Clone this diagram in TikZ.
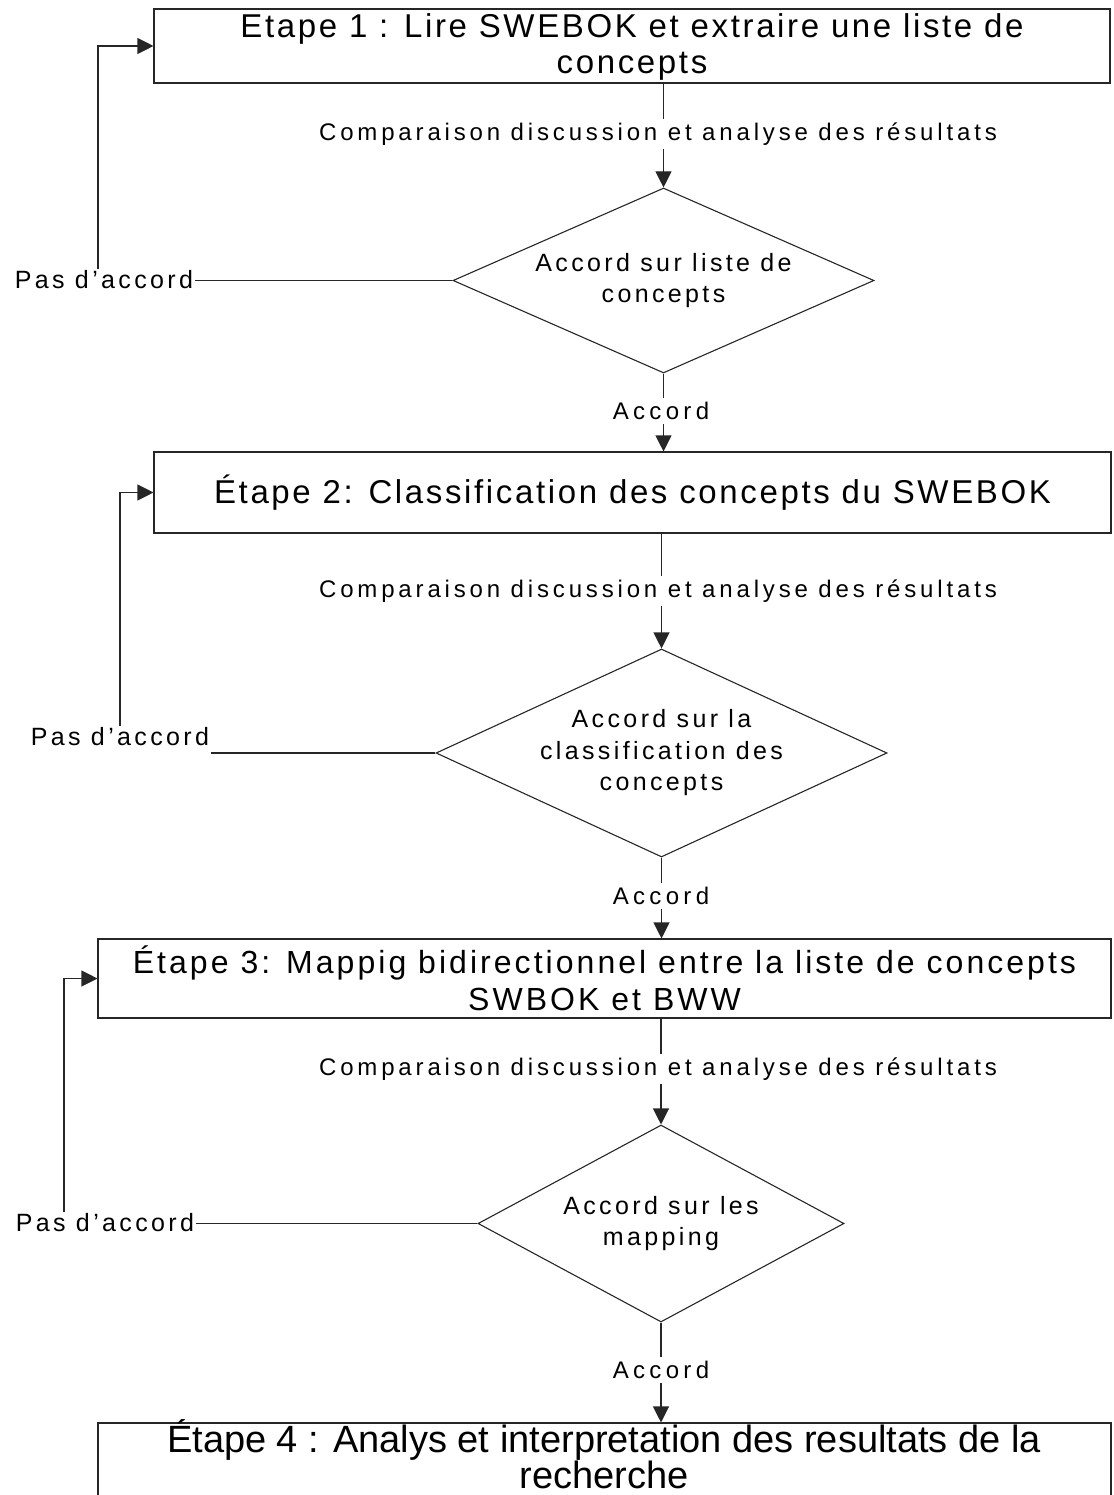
\documentclass[tikz,border=0pt]{standalone}
\usepackage{fontspec}
\setmainfont{Liberation Sans}
\usetikzlibrary{shapes.geometric,arrows.meta}

% font helper: size, baseline skip, letter spacing
\newcommand{\lsfont}[3]{\fontsize{#1}{#2}\selectfont\addfontfeature{LetterSpace=#3}}

\begin{document}
\begin{tikzpicture}[x=1pt,y=-1pt,
  line/.style={draw=black!85, line width=1.1pt},
  arrow/.style={line, -{Triangle[length=16pt,width=16pt]}},
  stepbox/.style={draw=black!85, line width=1.1pt, rectangle, inner sep=0pt, align=center},
  decision/.style={draw=black!85, line width=1.1pt, diamond, inner sep=0pt},
  dtext/.style={align=center, inner sep=0pt, font=\lsfont{25}{31.5}{13.5}},
  cmp/.style={fill=white, inner sep=4pt, font=\lsfont{24}{28}{16}},
  okay/.style={fill=white, inner sep=4pt, font=\lsfont{24}{28}{18}},
  nok/.style={inner sep=2pt, font=\lsfont{25}{30}{13.5}}
]
\clip (0,0) rectangle (1113,1495);
\useasboundingbox (0,0) rectangle (1113,1495);

% ---- step 1 ----
\node[stepbox, minimum width=956pt, minimum height=74pt] (b1) at (632,46) {};
\node[align=center, inner sep=0pt, font=\lsfont{33}{36}{8}] at (632,47)
  {Etape 1 : Lire SWEBOK et extraire une liste de\\concepts};
\node[decision, minimum width=421pt, minimum height=185pt] (d1) at (663.5,280.5) {};
\node[dtext] at (d1) {Accord sur liste de\\concepts};
\node[nok] (p1) at (104,280) {Pas d’accord};

% ---- step 2 ----
\node[stepbox, minimum width=957pt, minimum height=81pt, font=\lsfont{33}{38}{8}]
  (b2) at (632.5,492.5) {Étape 2: Classification des concepts du SWEBOK};
\node[decision, minimum width=451pt, minimum height=208pt] (d2) at (661.5,753) {};
\node[dtext] at (d2) {Accord sur la\\classification des\\concepts};
\node[nok] (p2) at (120,737) {Pas d’accord};

% ---- step 3 ----
\node[stepbox, minimum width=1013pt, minimum height=79pt, font=\lsfont{32}{37}{9.5}]
  (b3) at (604.5,978.5) {Étape 3: Mappig bidirectionnel entre la liste de concepts\\SWBOK et BWW};
\node[decision, minimum width=366pt, minimum height=197pt] (d3) at (661,1223.5) {};
\node[dtext] at (d3) {Accord sur les\\mapping};
\node[nok] (p3) at (105,1223) {Pas d’accord};

% ---- step 4 ----
\node[stepbox, minimum width=1013pt, minimum height=74pt] (b4) at (604.5,1460) {};
\node[align=center, inner sep=0pt, font=\lsfont{38}{35}{0}] at (604,1454)
  {Étape 4 : Analys et interpretation des resultats de la\\recherche};

% ---- main flow ----
\draw[arrow] (b1.south -| d1.north) -- (d1.north);
\node[cmp] (c1) at (658,134) {Comparaison discussion et analyse des résultats};
\draw[arrow] (d1.south) -- (d1.south |- b2.north);
\node[okay] (a1) at (661,411) {Accord};

\draw[arrow] (b2.south -| d2.north) -- (d2.north);
\node[cmp] (c2) at (658,591) {Comparaison discussion et analyse des résultats};
\draw[arrow] (d2.south) -- (d2.south |- b3.north);
\node[okay] (a2) at (661,896) {Accord};

\draw[arrow] (b3.south -| d3.north) -- (d3.north);
\node[cmp] (c3) at (658,1069) {Comparaison discussion et analyse des résultats};
\draw[arrow] (d3.south) -- (d3.south |- b4.north);
\node[okay] (a3) at (661,1370) {Accord};

% ---- disagreement loops ----
\draw[line] (d1.west) -- (d1.west -| p1.east);
\draw[arrow] ([xshift=-6pt]p1.north) |- (b1.west);
\draw[line] (d2.west) -- (d2.west -| p2.east);
\draw[arrow] (p2.north) |- (b2.west);
\draw[line] (d3.west) -- (d3.west -| p3.east);
\draw[arrow] ([xshift=-41pt]p3.north) |- (b3.west);
\end{tikzpicture}
\end{document}
